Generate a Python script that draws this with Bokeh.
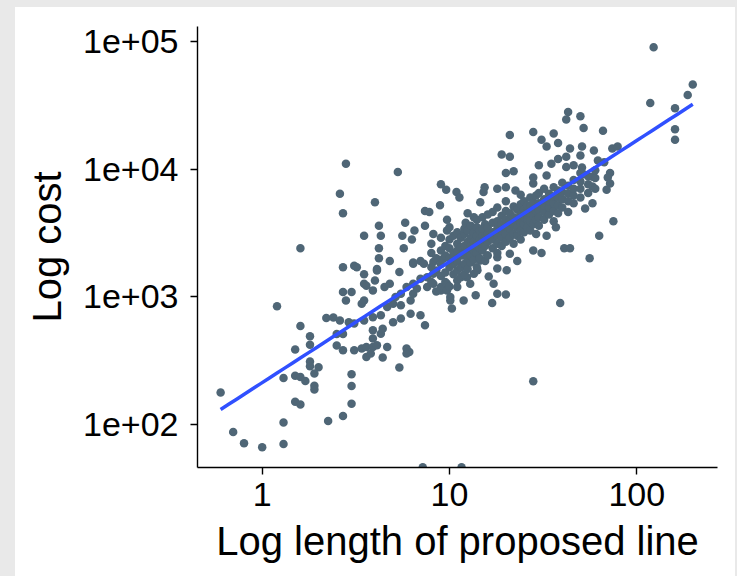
import numpy as np
from bokeh.plotting import figure
from bokeh.models import Range1d, FixedTicker, Spacer
from bokeh.layouts import row, column
from bokeh.embed import file_html
from bokeh.resources import INLINE

# Length of proposed line (x) and cost (y)
length_sparse = [2.8, 5.3, 2.6, 2.7, 4.0, 9.0, 9.6, 10.9, 11.3, 8.9, 7.4, 7.8, 5.8, 4.2, 4.3, 3.5, 7.4, 6.5, 5.6, 6.3,
                 9.7, 12.5, 13.5, 1.6, 4.2, 5.7, 4.2, 4.8, 2.7, 3.1, 3.2, 4.1, 6.4, 7.0, 12.2, 14.6]
cost_sparse = [11000, 9500, 6400, 4500, 5500, 7600, 6900, 6600, 6000, 5200, 4700, 4600, 3800, 3600, 3000, 3000, 3600, 3300, 3000, 2800,
               4000, 4500, 4200, 2400, 2400, 2400, 2000, 1900, 1700, 1750, 1700, 1650, 1850, 1900, 3800, 5500]

length_upper = [123, 199, 187, 118, 160, 160, 160, 43, 42, 50, 52, 66, 21, 28, 36, 31, 33, 38, 44, 51,
                50, 59, 74, 79, 19, 21, 38, 35, 42, 42, 46, 30, 62, 67, 51, 52, 20, 22, 72, 70,
                72, 69, 58, 58, 33, 28, 28, 15.4, 15.2, 18, 20, 22.5, 58, 53, 75, 37, 63, 41, 44, 56,
                28, 31, 23, 33, 27, 29, 8.2, 9.7]
cost_upper = [90000, 46000, 38000, 33000, 30000, 20500, 17000, 28000, 24500, 26000, 21000, 20000, 18500, 19500, 19000, 17000, 15000, 16000, 14500, 15000,
              12800, 14000, 14500, 15000, 13000, 12500, 12000, 11000, 12500, 10400, 10700, 10700, 11700, 11300, 10300, 9100, 9300, 9600, 9300, 8600,
              7700, 6900, 8700, 7300, 8900, 8600, 7700, 7200, 6600, 7000, 7200, 6800, 5400, 4900, 3900, 3500, 3000, 2400, 2400, 2000,
              2300, 2200, 1900, 3000, 3700, 3100, 3100, 3300]

length_lower = [0.6, 0.7, 0.8, 1.0, 1.3, 1.3, 1.2, 1.6, 1.8, 1.8, 1.5, 1.3, 1.5, 1.6, 1.7, 1.8, 1.8, 2.0, 1.9, 1.9,
                1.9, 1.5, 1.6, 2.25, 2.7, 3.0, 3.0, 3.0, 2.2, 2.4, 2.6, 2.5, 2.7, 2.5, 2.7, 3.5, 4.0, 4.1, 2.7, 3.0,
                2.8, 3.5, 3.6, 3.5, 3.4, 3.9, 4.5, 4.8, 5.4, 2.9, 3.1, 3.5, 3.9, 4.3, 3.1, 3.4, 3.6, 3.9, 4.1, 4.65,
                3.6, 3.8, 4.4, 3.9, 4.3, 4.4, 3.9, 5.4, 5.9, 6.1, 5.9, 5.0, 5.5, 6.2, 7.0, 7.4, 4.65, 5.0, 5.5, 6.2,
                6.4, 6.7, 7.6, 8.2, 5.15, 5.5, 5.9, 6.4, 7.0, 7.6, 8.2, 6.4, 7.3, 8.2, 9.3, 10.5, 11.9, 10.1, 10.3, 11.9,
                13.8, 9.0, 9.7, 11.0, 12.4, 13.5, 14.1, 12.9, 14.1, 7.2, 11.6]
cost_lower = [177, 87, 71, 66, 70, 103, 840, 590, 490, 420, 385, 230, 240, 235, 218, 310, 285, 280, 250, 200,
              187, 150, 143, 106, 116, 247, 199, 145, 680, 685, 650, 510, 510, 415, 380, 1500, 1340, 1600, 1090, 1090,
              935, 1260, 1220, 935, 880, 1120, 1190, 1260, 1560, 630, 615, 650, 690, 715, 380, 392, 403, 403, 416, 403,
              336, 358, 333, 470, 513, 560, 545, 278, 392, 368, 358, 630, 673, 736, 714, 596, 830, 880, 855, 935,
              1056, 1157, 1190, 1260, 994, 1056, 1190, 1260, 1380, 1420, 1510, 1810, 1810, 1870, 1990, 2040, 2100, 935, 806, 935,
              1024, 1120, 1260, 1340, 1420, 1510, 1610, 1920, 2040, 46, 46]

length_mid = [39, 28, 16.9, 18, 20, 17.2, 16.2, 18, 20.2, 21, 18, 9.0, 9.7, 11.0, 10.1, 12.9, 11.5, 12.4, 14.6, 15.9]
cost_mid = [890, 217, 890, 1056, 1040, 1260, 1440, 1660, 1610, 2170, 2040, 1190, 1120, 1190, 994, 1260, 1420, 1810, 1920, 2100]

length_dense = [8, 8, 8, 8, 8.5, 8.5, 8.5, 9, 9, 9, 9, 9.5, 9.5, 9.5, 9.5,
                10, 10, 10, 10, 10, 10, 10.5, 10.5, 10.5, 10.5, 11, 11, 11, 11, 11,
                11.5, 11.5, 11.5, 11.5, 12, 12, 12, 12, 12, 12, 12.5, 12.5, 12.5, 12.5, 12.5,
                13, 13, 13, 13, 13, 13.5, 13.5, 13.5, 13.5, 14, 14, 14, 14, 14, 14,
                14.5, 14.5, 14.5, 14.5, 15, 15, 15, 15, 15, 15.5, 15.5, 15.5, 15.5,
                16, 16, 16, 16, 16, 17, 17, 17, 17, 17, 18, 18, 18, 18, 18, 18,
                19, 19, 19, 19, 19, 20, 20, 20, 20, 20, 20, 21, 21, 21, 21,
                22, 22, 22, 22, 22, 23, 23, 23, 23, 24, 24, 24, 24, 24, 24,
                25, 25, 25, 25, 25, 26, 26, 26, 26, 27, 27, 27, 27, 27, 28, 28, 28, 28,
                29, 29, 29, 29, 30, 30, 30, 30, 30, 32, 32, 32, 32, 32, 34, 34, 34, 34,
                36, 36, 36, 36, 36, 38, 38, 38, 38, 40, 40, 40, 40, 43, 43, 43, 43,
                46, 46, 46, 46, 50, 50, 50, 50, 55, 55, 55, 60, 60, 60]
cost_dense = [1300, 1700, 2200, 2600, 1100, 1600, 2000, 1450, 1800, 2300, 2900, 1300, 1550, 2100, 2500,
              1200, 1700, 2000, 2400, 2800, 3500, 1500, 1800, 2200, 3000, 1600, 1900, 2300, 2600, 3200,
              1700, 2100, 2450, 2900, 1500, 1800, 2200, 2500, 3100, 3400, 1650, 2000, 2350, 2700, 3300,
              1850, 2100, 2500, 2900, 3600, 1950, 2300, 2700, 3200, 1700, 2200, 2600, 3000, 3500, 4000,
              2000, 2400, 2800, 3300, 2300, 2600, 3000, 3400, 4200, 1900, 2500, 2900, 3700,
              2100, 2700, 3100, 3500, 4400, 2400, 2800, 3200, 3800, 4600, 2200, 2600, 3000, 3400, 3900, 5000,
              2500, 2900, 3300, 3700, 4300, 2700, 3100, 3600, 4000, 4700, 5600, 2900, 3400, 3900, 4500,
              2600, 3100, 3700, 4200, 5100, 3000, 3500, 4100, 4800, 2800, 3300, 3800, 4400, 5300, 6300,
              3200, 3700, 4200, 4800, 5600, 3500, 4000, 4600, 5200, 3300, 3900, 4500, 5100, 6000, 3700, 4300, 4900, 5500,
              4000, 4700, 5300, 6200, 3600, 4200, 4800, 5400, 6500, 4000, 4600, 5200, 5800, 7000, 4400, 5000, 5600, 6400,
              3900, 4700, 5400, 6100, 7200, 4500, 5200, 6000, 6800, 5000, 5800, 6600, 7800, 4600, 5600, 6400, 7400,
              5400, 6200, 7000, 8200, 6000, 7000, 8000, 9300, 6500, 7600, 8800, 7000, 8500, 9800]

length = np.array(length_sparse + length_upper + length_lower + length_mid + length_dense, dtype=float)
cost = np.array(cost_sparse + cost_upper + cost_lower + cost_mid + cost_dense, dtype=float)

# fitted line in log10-log10 space
fit_slope = 0.949
fit_intercept = 2.326

x_ticks = [1, 10, 100]
x_tick_labels = ["1", "10", "100"]
y_ticks = [100, 1000, 10000, 100000]
y_tick_labels = ["1e+02", "1e+03", "1e+04", "1e+05"]

fit_x = np.logspace(np.log10(length.min()), np.log10(length.max()), 60)
fit_y = 10 ** (fit_intercept + fit_slope * np.log10(fit_x))

FONT = "Liberation Sans"
GRAY = "#e9e9e9"

p = figure(width=720, height=569, x_axis_type="log", y_axis_type="log",
           x_range=Range1d(0.4515, 269.7), y_range=Range1d(45.8, 131100),
           output_backend="svg", toolbar_location=None,
           min_border_left=182, min_border_right=18, min_border_top=19, min_border_bottom=109)
p.outline_line_color = None
p.xgrid.visible = False
p.ygrid.visible = False
p.background_fill_color = "white"
p.border_fill_color = "white"

p.scatter(length, cost, size=8.5, fill_color="#4f6676", line_color=None)
p.line(fit_x, fit_y, line_color="#3050ff", line_width=3.5)

p.xaxis.ticker = FixedTicker(ticks=x_ticks, minor_ticks=[])
p.yaxis.ticker = FixedTicker(ticks=y_ticks, minor_ticks=[])
p.xaxis.major_label_overrides = {t: l for t, l in zip(x_ticks, x_tick_labels)}
p.yaxis.major_label_overrides = {t: l for t, l in zip(y_ticks, y_tick_labels)}
p.xaxis.axis_label = "Log length of proposed line"
p.yaxis.axis_label = "Log cost"

for ax in (p.xaxis[0], p.yaxis[0]):
    ax.axis_line_color = "black"
    ax.axis_line_width = 1.4
    ax.major_tick_line_color = "black"
    ax.major_tick_line_width = 1.4
    ax.major_tick_out = 7
    ax.major_tick_in = 0
    ax.minor_tick_out = 0
    ax.minor_tick_in = 0
    ax.major_label_text_font = FONT
    ax.major_label_text_font_size = "34px"
    ax.major_label_text_color = "black"
    ax.axis_label_text_font = FONT
    ax.axis_label_text_font_size = "40px"
    ax.axis_label_text_font_style = "normal"
    ax.axis_label_text_color = "black"

p.xaxis.major_label_standoff = 8
p.xaxis.axis_label_standoff = 10
p.yaxis.major_label_standoff = 12
p.yaxis.axis_label_standoff = 11

top_strip = Spacer(width=737, height=7, styles={"background-color": GRAY})
left_strip = Spacer(width=15, height=569, styles={"background-color": GRAY})
right_strip = Spacer(width=2, height=569, styles={"background-color": GRAY})
layout = column(top_strip, row(left_strip, p, right_strip, spacing=0), spacing=0)

open("out.html", "w").write(file_html(layout, INLINE))
